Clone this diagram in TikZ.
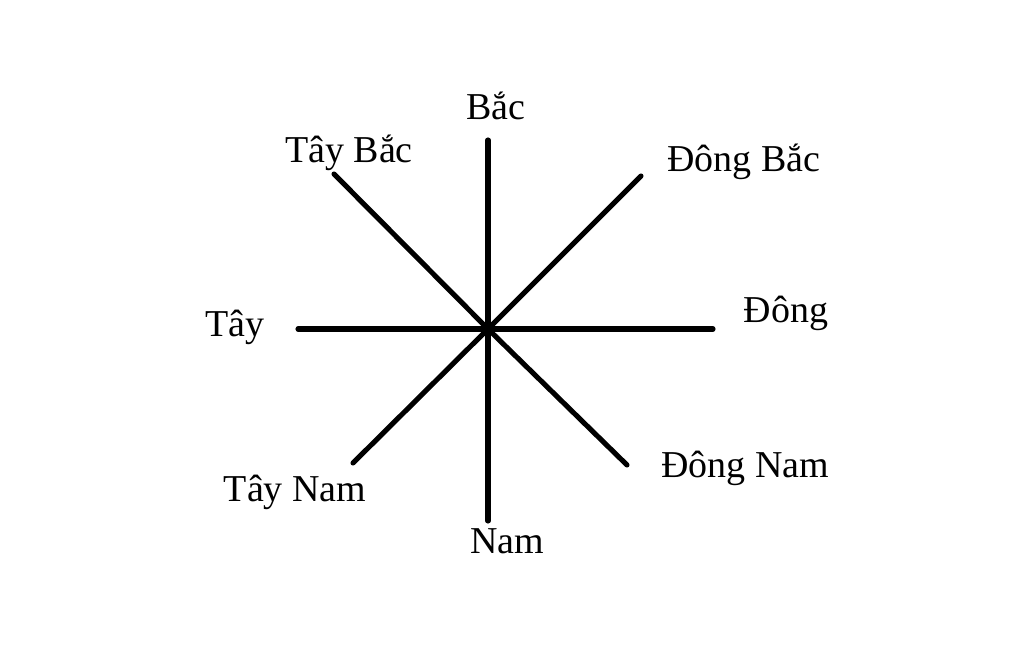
\documentclass[tikz,border=0pt]{standalone}
\usepackage{fontspec}
\setmainfont{Liberation Serif}
\tikzset{
    ray/.style={line width=1.45pt, line cap=round},
    dirlabel/.style={anchor=base, inner sep=0pt, font=\fontsize{10.8}{13}\selectfont}
}
\begin{document}
\begin{tikzpicture}[x=0.01cm,y=-0.01cm]
    \useasboundingbox (0,0) rectangle (1024,670);
    \coordinate (c) at (488,329);
    \coordinate (n) at (488,140);
    \coordinate (ne) at (641,176);
    \coordinate (e) at (713,329);
    \coordinate (se) at (627,465);
    \coordinate (s) at (488,521);
    \coordinate (sw) at (353,463);
    \coordinate (w) at (298,329);
    \coordinate (nw) at (334,174);

    \node[dirlabel] (bac) at (496,120) {Bắc};
    \node[dirlabel] (taybac) at (349,163) {Tây Bắc};
    \node[dirlabel] (dongbac) at (744,172) {Đông Bắc};
    \node[dirlabel] (tay) at (235,337) {Tây};
    \node[dirlabel] (dong) at (786,322) {Đông};
    \node[dirlabel] (taynam) at (295,501) {Tây Nam};
    \node[dirlabel] (nam) at (507,553) {Nam};
    \node[dirlabel] (dongnam) at (745,477) {Đông Nam};

    \foreach \d in {n,ne,e,se,s,sw,w,nw}
        \draw[ray] (c) -- (\d);
\end{tikzpicture}
\end{document}
